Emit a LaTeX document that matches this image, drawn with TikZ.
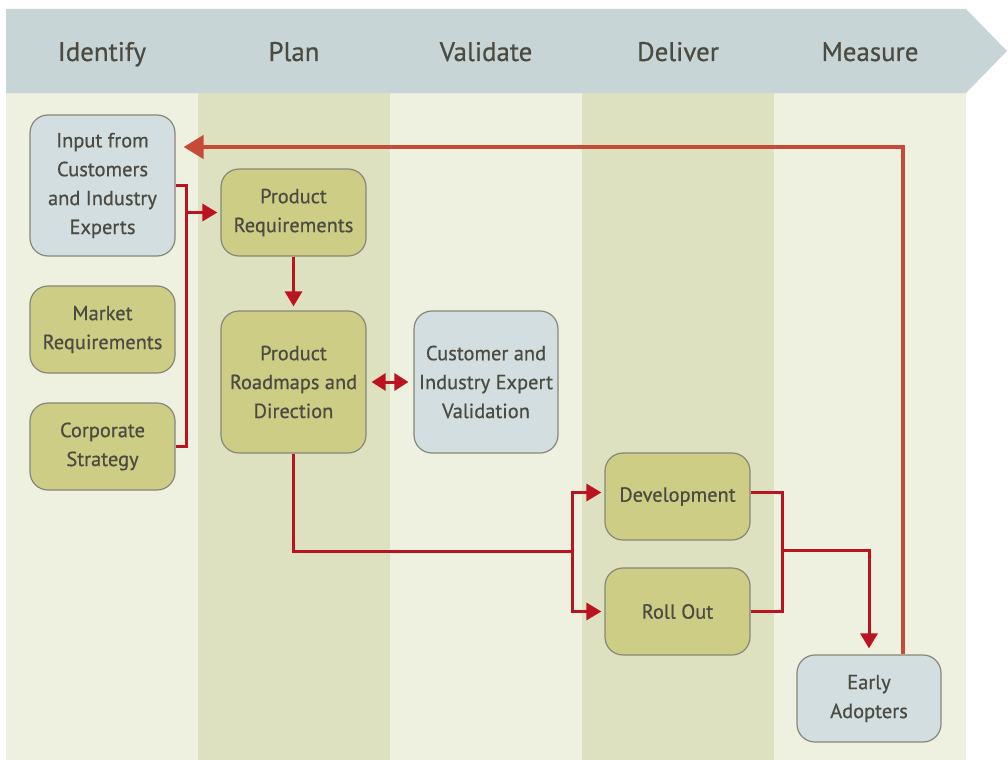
\documentclass[tikz,border=0pt]{standalone}
\usepackage{fontspec}
\setmainfont{PT Sans}[FakeBold=0.6]
\usetikzlibrary{arrows.meta}
\definecolor{headfill}{HTML}{C8D5D7}
\definecolor{collight}{HTML}{EEF0E0}
\definecolor{coldark}{HTML}{DEE1BF}
\definecolor{olivefill}{HTML}{CDCD85}
\definecolor{bluefill}{HTML}{D3DEE0}
\definecolor{boxborder}{HTML}{86877A}
\definecolor{txt}{HTML}{4B4B42}
\definecolor{linkred}{HTML}{BA1421}
\definecolor{backred}{HTML}{C64B37}
\begin{document}
\begin{tikzpicture}[x=1bp,y=-1bp,
  box/.style={draw=boxborder, line width=1.2bp, rounded corners=18bp, align=center,
    text=txt, font=\fontsize{20.5}{29}\selectfont, inner sep=0pt},
  olive/.style={box, fill=olivefill},
  bluebox/.style={box, fill=bluefill},
  head/.style={text=txt, font=\fontsize{27}{30}\selectfont, anchor=base},
  link/.style={draw=linkred, line width=3bp},
  arr/.style={-{Triangle[length=15bp,width=17bp]}},
  backlink/.style={draw=backred, line width=4.5bp, -{Triangle[length=20bp,width=23bp]}}
]
\useasboundingbox (0,0) rectangle (1008,760);
% columns
\fill[collight] (6,93) rectangle (198,760);
\fill[coldark] (198,93) rectangle (390,760);
\fill[collight] (390,93) rectangle (582,760);
\fill[coldark] (582,93) rectangle (774,760);
\fill[collight] (774,93) rectangle (966,760);
% header
\fill[headfill] (6,9) -- (966,9) -- (1007,51) -- (966,93) -- (6,93) -- cycle;
\node[head] (hId) at (102,61) {Identify};
\node[head] (hPl) at (294,61) {Plan};
\node[head] (hVa) at (486,61) {Validate};
\node[head] (hDe) at (678,61) {Deliver};
\node[head] (hMe) at (870,61) {Measure};
% boxes
\node[bluebox, minimum width=145bp, minimum height=141bp] (inp) at (102.5,185.5) {Input from\\Customers\\and Industry\\Experts};
\node[olive, minimum width=145bp, minimum height=87bp] (preq) at (293.5,212.5) {Product\\Requirements};
\node[olive, minimum width=145bp, minimum height=87bp] (mreq) at (102.5,329.5) {Market\\Requirements};
\node[olive, minimum width=145bp, minimum height=87bp] (corp) at (102.5,446.5) {Corporate\\Strategy};
\node[olive, minimum width=145bp, minimum height=142bp] (road) at (293.5,382) {Product\\Roadmaps and\\Direction};
\node[bluebox, minimum width=144bp, minimum height=142bp] (val) at (486,382) {Customer and\\Industry Expert\\Validation};
\node[olive, minimum width=145bp, minimum height=87bp] (dev) at (677.5,496.5) {Development};
\node[olive, minimum width=145bp, minimum height=87bp] (roll) at (677.5,611.5) {Roll Out};
\node[bluebox, minimum width=144bp, minimum height=87bp] (early) at (869,698.5) {Early\\Adopters};
% connector junctions
\coordinate (busL) at (186,300);
\coordinate (busD) at (572,551);
\coordinate (busR) at (782,550);
\coordinate (dropE) at (869,550);
\coordinate (backTop) at (903,147);
% left bus
\draw[link] (inp.east) -| (busL |- corp.east) -- (corp.east);
\draw[link,arr,shorten >=3bp] (busL |- preq.west) -- (preq.west);
% plan
\draw[link,arr,shorten >=4bp] (preq.south) -- (road.north);
\draw[link,{Triangle[length=14bp,width=17bp]}-{Triangle[length=14bp,width=17bp]},shorten <=5bp,shorten >=5bp] (road.east) -- (val.west);
% deliver
\draw[link] (road.south) |- (busD);
\draw[link,arr,shorten >=3bp] (busD) |- ([yshift=4bp]dev.west);
\draw[link,arr,shorten >=3bp] (busD) |- (roll.west);
\draw[link] ([yshift=4bp]dev.east) -| (busR |- roll.east) -- (roll.east);
\draw[link,arr,shorten >=6bp] (busR) -- (dropE) -- (dropE |- early.north);
% feedback
\draw[backlink,shorten >=8bp] (backTop |- early.north) -- (backTop) -- (backTop -| inp.east);
\end{tikzpicture}
\end{document}
